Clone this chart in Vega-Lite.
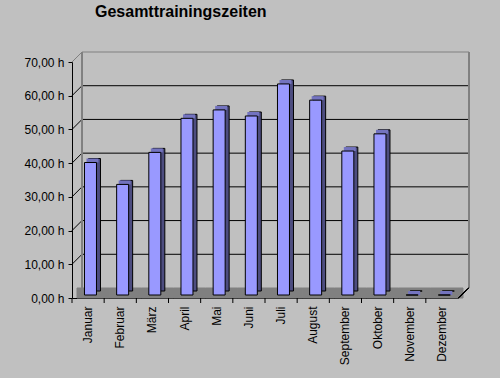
{
  "$schema": "https://vega.github.io/schema/vega-lite/v6.json",
  "width": 386,
  "height": 236,
  "autosize": {"type": "none"},
  "padding": {"left": 72, "top": 62, "right": 42, "bottom": 80},
  "background": "#C0C0C0",
  "config": {
    "view": {"stroke": null},
    "font": "Liberation Sans"
  },
  "title": {
    "text": "Gesamttrainingszeiten",
    "anchor": "start",
    "frame": "group",
    "dx": 23,
    "offset": 32,
    "font": "Liberation Sans",
    "fontSize": 16,
    "fontWeight": "bold",
    "color": "#000000"
  },
  "datasets": {
    "months": [
      {"monat": "Januar", "stunden": 39.3},
      {"monat": "Februar", "stunden": 32.8},
      {"monat": "März", "stunden": 42.3},
      {"monat": "April", "stunden": 52.4},
      {"monat": "Mai", "stunden": 54.9},
      {"monat": "Juni", "stunden": 53.1},
      {"monat": "Juli", "stunden": 62.6},
      {"monat": "August", "stunden": 57.8},
      {"monat": "September", "stunden": 42.7},
      {"monat": "Oktober", "stunden": 47.8},
      {"monat": "November", "stunden": 0},
      {"monat": "Dezember", "stunden": 0}
    ],
    "grid": [
      {"wert": 10, "farbe": "black"},
      {"wert": 20, "farbe": "black"},
      {"wert": 30, "farbe": "black"},
      {"wert": 40, "farbe": "black"},
      {"wert": 50, "farbe": "black"},
      {"wert": 60, "farbe": "black"},
      {"wert": 70, "farbe": "gray"}
    ]
  },
  "data": {"name": "months"},
  "encoding": {
    "x": {
      "field": "monat",
      "type": "nominal",
      "sort": null,
      "scale": {"paddingInner": 0, "paddingOuter": 0},
      "axis": {
        "title": null,
        "labelAngle": 270,
        "labelFont": "Liberation Sans",
        "labelFontSize": 12,
        "labelColor": "#000000",
        "domainColor": "#000000",
        "ticks": false,
        "tickSize": 0,
        "labelPadding": 8
      }
    },
    "y": {
      "type": "quantitative",
      "scale": {"domain": [0, 70], "nice": false},
      "axis": {
        "title": null,
        "values": [0, 10, 20, 30, 40, 50, 60, 70],
        "grid": false,
        "labelExpr": "replace(format(datum.value, '.2f'), '.', ',') + ' h'",
        "labelFont": "Liberation Sans",
        "labelFontSize": 12,
        "labelColor": "#000000",
        "domainColor": "#000000",
        "tickColor": "#000000",
        "tickSize": 4,
        "labelPadding": 4
      }
    }
  },
  "layer": [
    {
      "mark": {"type": "bar", "width": {"band": 1}, "xOffset": 5, "yOffset": 0, "y2Offset": -10, "fill": "#808080", "stroke": "#808080", "strokeWidth": 1},
      "encoding": {
        "y": {"datum": 0, "type": "quantitative"},
        "y2": {"datum": 0}
      }
    },
    {
      "data": {"name": "grid"},
      "mark": {"type": "rule", "xOffset": 10, "x2Offset": 11, "yOffset": -10, "strokeWidth": 1},
      "encoding": {
        "y": {"field": "wert", "type": "quantitative"},
        "x": {"datum": "Januar", "bandPosition": 0},
        "x2": {"datum": "Dezember", "bandPosition": 1},
        "color": {"field": "farbe", "type": "nominal", "scale": {"domain": ["black", "gray"], "range": ["#000000", "#808080"]}, "legend": null}
      }
    },
    {
      "data": {"name": "grid"},
      "mark": {"type": "rule", "x2Offset": 10, "y2Offset": -10, "strokeWidth": 1},
      "encoding": {
        "y": {"field": "wert", "type": "quantitative"},
        "y2": {"field": "wert"},
        "x": {"datum": "Januar", "bandPosition": 0},
        "x2": {"datum": "Januar", "bandPosition": 0},
        "color": {"field": "farbe", "type": "nominal", "scale": {"domain": ["black", "gray"], "range": ["#000000", "#808080"]}, "legend": null}
      }
    },
    {
      "mark": {"type": "rule", "xOffset": 10, "yOffset": -10, "y2Offset": -10, "color": "#808080"},
      "encoding": {
        "x": {"datum": "Januar", "bandPosition": 0},
        "y": {"datum": 70, "type": "quantitative"},
        "y2": {"datum": 0}
      }
    },
    {
      "mark": {"type": "rule", "xOffset": 11, "yOffset": -10, "y2Offset": -10, "color": "#808080"},
      "encoding": {
        "x": {"datum": "Dezember", "bandPosition": 1},
        "y": {"datum": 70, "type": "quantitative"},
        "y2": {"datum": 0}
      }
    },
    {
      "mark": {"type": "rule", "x2Offset": 11, "y2Offset": -10, "color": "#000000"},
      "encoding": {
        "x": {"datum": "Dezember", "bandPosition": 1},
        "x2": {"datum": "Dezember", "bandPosition": 1},
        "y": {"datum": 0, "type": "quantitative"},
        "y2": {"datum": 0}
      }
    },
    {
      "mark": {"type": "bar", "width": 12, "xOffset": 6.4, "yOffset": -7, "y2Offset": -7, "fill": "#4D4D80", "stroke": "#000000", "strokeWidth": 1},
      "encoding": {
        "y": {"field": "stunden", "type": "quantitative"},
        "y2": {"datum": 0}
      }
    },
    {
      "mark": {"type": "bar", "width": 12, "xOffset": 4.4, "yOffset": -7, "y2Offset": -3, "fill": "#7373BF"},
      "encoding": {
        "y": {"field": "stunden", "type": "quantitative"},
        "y2": {"field": "stunden"}
      }
    },
    {
      "mark": {"type": "bar", "width": 12, "xOffset": 2.4, "yOffset": -3, "y2Offset": -3, "fill": "#9999FF", "stroke": "#000000", "strokeWidth": 1},
      "encoding": {
        "y": {"field": "stunden", "type": "quantitative"},
        "y2": {"datum": 0}
      }
    },
    {
      "mark": {"type": "rule", "y2Offset": 5, "color": "#000000"},
      "encoding": {
        "x": {"field": "monat", "type": "nominal", "sort": null, "bandPosition": 0},
        "y": {"datum": 0, "type": "quantitative"},
        "y2": {"datum": 0}
      }
    }
  ]
}
